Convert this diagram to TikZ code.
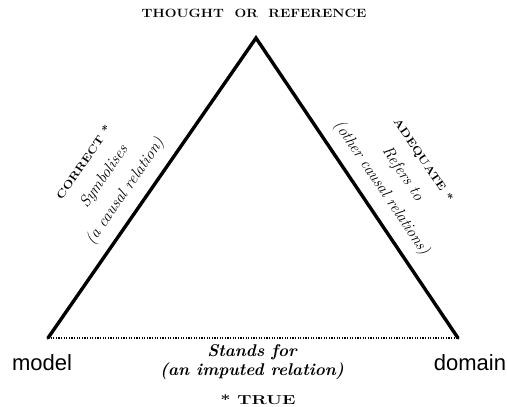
\documentclass[tikz,border=0pt]{standalone}
\usepackage{fontspec}
\usepackage{graphicx}
\newfontfamily\sansfnt{Liberation Sans}
\usepackage{tikz}
\usetikzlibrary{positioning, calc}
\newcommand{\widecaps}[2][1.2]{\scalebox{#1}[1]{#2}}
\tikzset{
  side/.style={line width=3.4pt, line cap=round},
  base/.style={line width=1.4pt, dash pattern=on 1.2pt off 1.4pt},
  lbl/.style={align=center, font=\fontsize{16}{25.5}\selectfont\itshape, inner sep=0pt},
  caps/.style={font=\fontsize{12}{14}\selectfont\bfseries, inner sep=0pt},
  corner/.style={font=\fontsize{22}{24}\selectfont\sansfnt, inner sep=0pt},
  rel/.style={font=\fontsize{17}{19}\selectfont\bfseries\itshape, inner sep=0pt}
}
\begin{document}
\begin{tikzpicture}[x=1pt, y=1pt]
  \useasboundingbox (0,0) rectangle (507,407);
  \coordinate (top) at (256, 369);
  \coordinate (lft) at (48, 69);
  \coordinate (rgt) at (458, 69);

  \node[caps] (thought) at (254, 394) {\widecaps[1.16]{THOUGHT\ \ OR\ \ REFERENCE}};

  \draw[side] (lft) -- (top) -- (rgt);
  \draw[base] (lft) -- (rgt);

  % labels along the two sides
  \node[lbl, rotate=55.3] (symb) at (106, 229)
    {{\upshape\bfseries\fontsize{11}{12}\selectfont\widecaps{CORRECT *}}\\ Symbolises\\ (a causal relation)};
  \node[lbl, rotate=-56] (refer) at (401, 232)
    {{\upshape\bfseries\fontsize{11}{12}\selectfont\widecaps{ADEQUATE *}}\\ Refers to\\ (other causal relations)};

  \node[corner] (mdl) at (42, 44) {model};
  \node[corner] (dom) at (470, 44) {domain};

  \node[rel] (stands) at (252, 55) {Stands for};
  \node[rel, below=3pt of stands] (imput) {(an imputed relation)};
  \node[caps, font=\fontsize{13}{15}\selectfont\bfseries] (true) at (258, 7) {\widecaps[1.4]{* TRUE}};
\end{tikzpicture}
\end{document}
